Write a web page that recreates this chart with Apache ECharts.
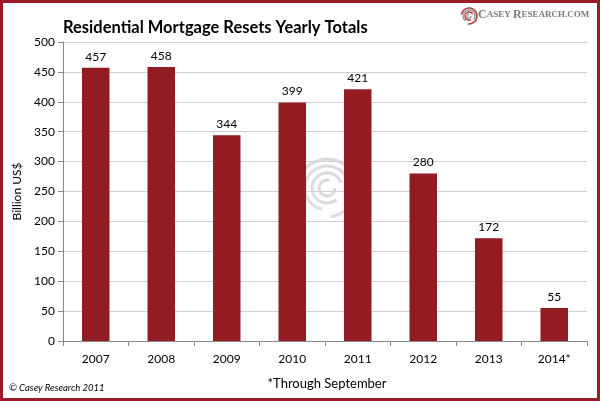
<!DOCTYPE html>
<html><head><meta charset="utf-8">
<script src="https://cdn.jsdelivr.net/npm/echarts@6/dist/echarts.min.js"></script>
<style>html,body{margin:0;padding:0;background:#fff}#c{width:600px;height:401px;box-sizing:border-box;border:3px solid #9b1c26}</style>
</head><body><div id="c"></div>
<script>
const categories = ['2007','2008','2009','2010','2011','2012','2013','2014*'];
const values = [457,458,344,399,421,280,172,55];
const yTicks = [0,50,100,150,200,250,300,350,400,450,500];

const chart = echarts.init(document.getElementById('c'), null, {renderer:'canvas'});
const font = 'Lato, "Open Sans", sans-serif';
const serif = '"Liberation Serif", "DejaVu Serif", serif';
const swirl = [];
[8,15,22,29].forEach((r,i)=>{
  swirl.push({type:'arc', z:-1, silent:true,
    shape:{cx:324, cy:185, r:r, startAngle:i*0.9, endAngle:i*0.9+Math.PI*1.6},
    style:{stroke:'#dcdcdc', lineWidth:3, fill:null}});
});
const logo = [];
[2,4,6,8].forEach((r,i)=>{
  logo.push({type:'arc', silent:true,
    shape:{cx:466, cy:13, r:r, startAngle:i*1.1, endAngle:i*1.1+Math.PI*1.5},
    style:{stroke: i%2? '#b03a3a':'#999', lineWidth:1.5, fill:null}});
});
chart.setOption({
  animation:false,
  backgroundColor:'#fff',
  grid:{left:60, right:10, top:39, bottom:57, containLabel:false},
  graphic: swirl.concat(logo),
  title:[
    {text:'Residential Mortgage Resets Yearly Totals', left:60, top:16, padding:0,
     textStyle:{fontFamily:font, fontWeight:'bold', fontSize:16.5, color:'#000'}},
    {text:'{b|C}{s|ASEY }{b|R}{s|ESEARCH.COM}', left:475, top:6, padding:0,
     textStyle:{rich:{
       b:{fontFamily:serif, fontSize:12, color:'#7a7a7a'},
       s:{fontFamily:serif, fontSize:9, color:'#7a7a7a'}}}},
    {text:'*Through September', left:324, top:374, textAlign:'center', padding:0,
     textStyle:{fontFamily:font, fontWeight:'normal', fontSize:13, color:'#000'}},
    {text:'© Casey Research 2011', left:6, top:380, padding:0,
     textStyle:{fontFamily:font, fontStyle:'italic', fontWeight:'normal', fontSize:9.5, color:'#000'}}
  ],
  xAxis:{type:'category', data:categories,
    axisLine:{lineStyle:{color:'#888'}},
    axisTick:{show:true, alignWithLabel:false, length:5, lineStyle:{color:'#888'}},
    axisLabel:{fontFamily:font, fontSize:12, color:'#000', margin:12}},
  yAxis:{type:'value', min:0, max:500, interval:50,
    name:'Billion US$', nameLocation:'middle', nameGap:34, nameRotate:90,
    nameTextStyle:{fontFamily:font, fontSize:12, color:'#000'},
    axisLine:{show:true, lineStyle:{color:'#888'}},
    axisTick:{show:true, length:5, lineStyle:{color:'#888'}},
    axisLabel:{fontFamily:font, fontSize:12, color:'#000', margin:8,
      formatter:v=>yTicks.includes(v)?String(v):''},
    splitLine:{lineStyle:{color:'#d0d0d0'}}},
  series:[{type:'bar', data:values, barWidth:'42%',
    itemStyle:{color:'#931b22'},
    label:{show:true, position:'top', distance:5, fontFamily:font, fontSize:12, color:'#000'}}]
});
</script></body></html>
